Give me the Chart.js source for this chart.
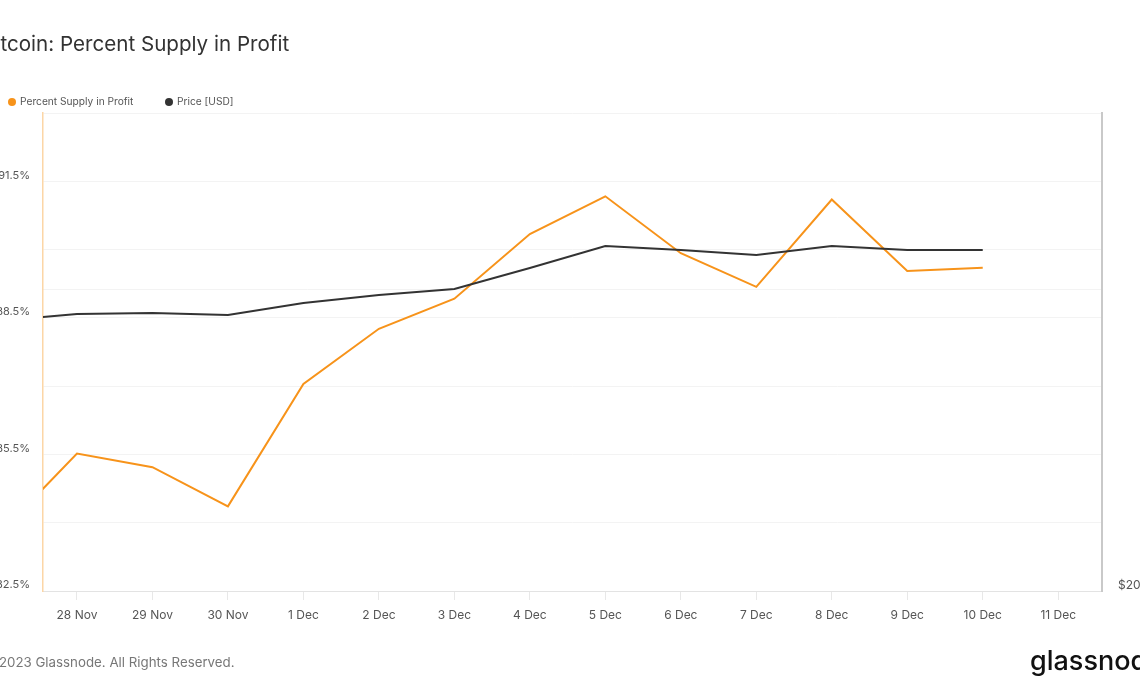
<!DOCTYPE html>
<html>
<head>
    <meta charset="utf-8" />
    <title>Bitcoin: Percent Supply in Profit</title>
    <script src="https://cdn.jsdelivr.net/npm/chart.js@4.4.0/dist/chart.umd.min.js"></script>
    <style>
      html, body { margin: 0; padding: 0; background: #fff; }
      #frame { position: relative; width: 1140px; height: 694px; overflow: hidden; }
      #chart { position: absolute; left: -30px; top: 0; }
    </style>
</head>
<body>
    <!-- the reference is a crop of a wider chart, so the canvas hangs 30px off each side -->
    <div id="frame">
        <canvas id="chart" width="1200" height="694"></canvas>
    </div>

    <script>
      // day index 0 = 27 Nov 2023
      const dayLabels = ["27 Nov", "28 Nov", "29 Nov", "30 Nov", "1 Dec", "2 Dec", "3 Dec", "4 Dec",
                         "5 Dec", "6 Dec", "7 Dec", "8 Dec", "9 Dec", "10 Dec", "11 Dec"];
      const supplyInProfit = [83.80, 85.52, 85.22, 84.36, 87.05, 88.26, 88.92, 90.34,
                              91.17, 89.92, 89.18, 91.10, 89.53, 89.60];
      const priceUsd = [37220, 37800, 37880, 37720, 38770, 39480, 40040, 42020,
                        44200, 43790, 43290, 44200, 43790, 43790];
      const xTickDays = [1, 2, 3, 4, 5, 6, 7, 8, 9, 10, 11, 12, 13, 14];
      const pctTicks = [82.5, 84, 85.5, 87, 88.5, 90, 91.5, 93];
      const pctLabelled = [82.5, 85.5, 88.5, 91.5];
      const priceTicks = [20000, 40000];
      const priceLabelled = [20000];

      const ORANGE = "#f7931a";
      const DARK = "#333333";
      const FONT = "Inter, 'Liberation Sans', Arial, sans-serif";

      // title, legend, footer and logo drawn straight onto the canvas
      const decorations = {
        id: "decorations",
        afterDraw(chart) {
          const c = chart.ctx;
          c.save();
          c.textBaseline = "middle";
          c.textAlign = "left";

          c.fillStyle = "#333";
          c.font = "20.6px " + FONT;
          c.fillText("Bitcoin: Percent Supply in Profit", 12, 45);

          c.font = "10.2px " + FONT;
          c.fillStyle = ORANGE;
          c.beginPath(); c.arc(42, 102, 4, 0, Math.PI * 2); c.fill();
          c.fillStyle = "#555";
          c.fillText("Percent Supply in Profit", 50, 102);
          c.fillStyle = DARK;
          c.beginPath(); c.arc(199, 102, 4, 0, Math.PI * 2); c.fill();
          c.fillStyle = "#555";
          c.fillText("Price [USD]", 207, 102);

          c.fillStyle = "#777";
          c.font = "13.3px " + FONT;
          c.fillText("\u00a9 2023 Glassnode. All Rights Reserved.", 13, 663);

          c.fillStyle = "#111";
          c.font = "500 27px " + FONT;
          c.fillText("glassnode", 1060, 662);
          c.restore();
        }
      };

      const ctx = document.getElementById("chart").getContext("2d");
      new Chart(ctx, {
        type: "line",
        data: {
          datasets: [{
            label: "Percent Supply in Profit",
            data: supplyInProfit.map((v, i) => ({ x: i, y: v })),
            yAxisID: "yPct",
            borderColor: ORANGE,
            borderWidth: 2,
            pointRadius: 0,
            tension: 0,
            order: 2
          }, {
            label: "Price [USD]",
            data: priceUsd.map((v, i) => ({ x: i, y: v })),
            yAxisID: "yPrice",
            borderColor: DARK,
            borderWidth: 2,
            pointRadius: 0,
            tension: 0,
            order: 1
          }]
        },
        options: {
          responsive: false,
          animation: false,
          devicePixelRatio: 1,
          layout: { padding: { top: 113, left: 0, right: 0, bottom: 0 } },
          plugins: {
            legend: { display: false },
            title: { display: false },
            tooltip: { enabled: false }
          },
          scales: {
            x: {
              type: "linear",
              min: 0.55,
              max: 14.58,
              afterBuildTicks: s => { s.ticks = xTickDays.map(v => ({ value: v })); },
              afterFit: s => { s.height = 103; },
              grid: { drawOnChartArea: false, drawTicks: true, tickLength: 9, color: "#e8e8e8" },
              border: { color: "#e3e3e3", width: 1 },
              ticks: {
                padding: 8,
                maxRotation: 0,
                autoSkip: false,
                color: "#555",
                font: { family: FONT, size: 12 },
                callback: v => dayLabels[v]
              }
            },
            yPct: {
              position: "left",
              min: 82.5,
              max: 93,
              afterBuildTicks: s => { s.ticks = pctTicks.map(v => ({ value: v })); },
              afterFit: s => { s.width = 73; },
              grid: { color: "#f3f3f3", drawTicks: false },
              border: { color: "#fcd6a6", width: 1.5 },
              ticks: {
                padding: 13,
                labelOffset: -6,
                color: "#555",
                font: { family: FONT, size: 11 },
                callback: v => pctLabelled.includes(v) ? v.toFixed(1) + "%" : ""
              }
            },
            yPrice: {
              type: "logarithmic",
              position: "right",
              min: 20000,
              max: 60000,
              afterBuildTicks: s => { s.ticks = priceTicks.map(v => ({ value: v })); },
              afterFit: s => { s.width = 68; },
              grid: { color: "#f3f3f3", drawTicks: false },
              border: { color: "#c9c9c9", width: 2 },
              ticks: {
                padding: 16,
                labelOffset: -6,
                color: "#555",
                font: { family: FONT, size: 12 },
                callback: v => priceLabelled.includes(v) ? "$" + (v / 1000) + "k" : ""
              }
            }
          }
        },
        plugins: [decorations]
      });
    </script>
</body>
</html>
